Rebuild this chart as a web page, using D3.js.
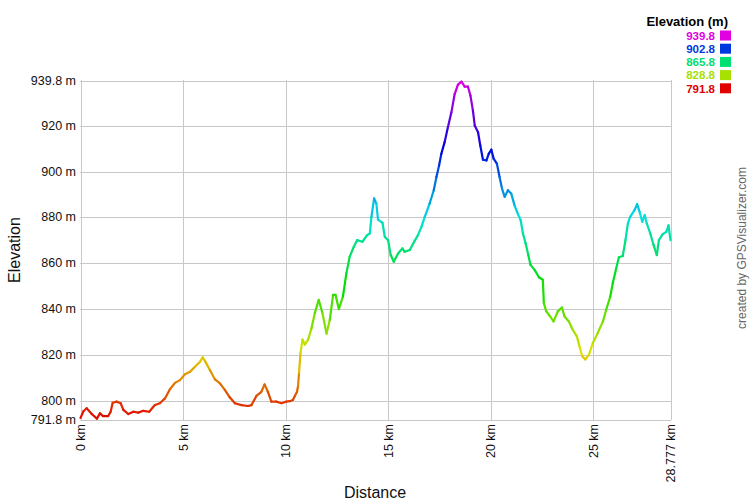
<!DOCTYPE html>
<html><head><meta charset="utf-8">
<script src="https://cdn.jsdelivr.net/npm/d3@7"></script>
<style>body{margin:0;background:#fff;}svg{display:block;font-family:"Liberation Sans",Arial,sans-serif;}</style>
</head><body>
<script>
const distanceKm = [0,0.15,0.3,0.55,0.8,0.95,1.1,1.35,1.47,1.57,1.76,1.96,2.09,2.33,2.58,2.82,3.06,3.35,3.63,3.87,4.12,4.36,4.61,4.85,5.1,5.34,5.58,5.83,5.96,6.07,6.31,6.56,6.8,7.04,7.28,7.53,7.85,8.17,8.34,8.58,8.82,8.98,9.14,9.31,9.55,9.8,10.04,10.21,10.36,10.45,10.56,10.61,10.66,10.73,10.83,10.94,11.1,11.27,11.43,11.62,11.8,12.0,12.16,12.32,12.44,12.6,12.8,12.97,13.13,13.33,13.49,13.75,13.98,14.11,14.19,14.32,14.43,14.51,14.73,14.84,15.0,15.13,15.28,15.49,15.7,15.81,16.06,16.3,16.46,16.63,16.79,17.03,17.23,17.36,17.49,17.6,17.76,17.92,18.09,18.25,18.41,18.58,18.74,18.9,19.02,19.14,19.23,19.39,19.5,19.63,19.8,19.91,20.04,20.15,20.31,20.44,20.56,20.69,20.85,21.01,21.17,21.34,21.47,21.58,21.71,21.84,21.95,22.15,22.36,22.55,22.6,22.72,22.88,23.07,23.28,23.48,23.61,23.82,24.01,24.21,24.34,24.47,24.62,24.8,24.99,25.23,25.48,25.64,25.84,25.96,26.13,26.26,26.45,26.58,26.7,26.81,27.02,27.15,27.27,27.4,27.52,27.62,27.79,27.95,28.11,28.21,28.4,28.57,28.68,28.777];
const elevationM = [792.5,795.5,796.7,794.2,792.2,794.5,793.3,793.3,795.2,799.1,799.6,798.9,796,794.2,795.2,794.8,795.6,795.2,798.1,798.9,801,805,807.8,809,811.6,812.6,814.8,817,818.9,817.4,813.4,809.3,807.6,804.7,801.5,798.9,798.1,797.7,798.1,802.1,803.9,807.1,803.9,799.6,799.6,798.9,799.6,799.8,800.3,802,803.9,806.3,812.2,820.9,826.7,824.5,826.7,831.7,838.3,844,838.3,829.3,835.3,846.2,846.2,840,845.5,855.7,862.9,867.2,870.1,869.4,872.3,873,880.3,888.3,886.1,879.1,877.7,871.6,870.1,863.6,860.7,864.3,866.5,865,865.8,869.8,872.3,875.9,880.3,886.1,891.9,897.7,902.7,907.8,912.9,919.4,925.9,933.9,938,939.3,937.1,937.1,933.2,926.7,920.1,917.2,911.4,905.2,904.9,907.8,909.6,905.7,903.5,897.7,892.6,889,891.9,890.4,885.3,881.4,878.8,873,868.7,863.6,859.3,857.1,853.9,852.8,842.6,839,837.1,834.6,839,840.7,836.8,834.6,831,828.1,823.7,819.4,818,820.1,825.2,829.6,834.6,839.7,845.5,851.3,857.8,862.6,863.2,870.1,877.4,880.3,883.2,885.8,882.4,878.1,881,877.4,873,868,863.6,870.1,872.7,873.7,876.6,870.1];
const yTickValues = [791.8,800,820,840,860,880,900,920,939.8];
const yTickLabels = ["791.8 m","800 m","820 m","840 m","860 m","880 m","900 m","920 m","939.8 m"];
const xTickValues = [0,5,10,15,20,25,28.777];
const xTickLabels = ["0 km","5 km","10 km","15 km","20 km","25 km","28.777 km"];
const legendValues = [939.8,902.8,865.8,828.8,791.8];
const legendLabels = ["939.8","902.8","865.8","828.8","791.8"];

const W=750,H=500;
const svg=d3.select("body").append("svg").attr("width",W).attr("height",H);
const x=d3.scaleLinear().domain([0,28.777]).range([80.5,670.5]);
const y=d3.scaleLinear().domain([791.8,939.8]).range([419.5,80.5]);
const color=e=>d3.hsl(300*(e-791.8)/148,1,0.44).formatHex();

// gridlines
svg.append("g").selectAll("line").data(yTickValues).join("line")
  .attr("x1",80).attr("x2",671).attr("y1",d=>Math.round(y(d))+0.5).attr("y2",d=>Math.round(y(d))+0.5)
  .attr("stroke","#c8c8c8").attr("stroke-width",1);
svg.append("g").selectAll("line").data(xTickValues).join("line")
  .attr("y1",80).attr("y2",420).attr("x1",d=>Math.round(x(d))+0.5).attr("x2",d=>Math.round(x(d))+0.5)
  .attr("stroke","#c8c8c8").attr("stroke-width",1);

// y labels
svg.append("g").selectAll("text").data(yTickValues).join("text")
  .attr("x",76).attr("y",d=>y(d)+4).attr("text-anchor","end").attr("font-size",12.5).attr("fill","#111")
  .text((d,i)=>yTickLabels[i]);
// x labels
svg.append("g").selectAll("text").data(xTickValues).join("text")
  .attr("transform",d=>`translate(${x(d)+4.5},424) rotate(-90)`).attr("text-anchor","end")
  .attr("font-size",12.5).attr("fill","#111").text((d,i)=>xTickLabels[i]);

svg.append("text").attr("transform","translate(20,250) rotate(-90)").attr("text-anchor","middle")
  .attr("font-size",16).attr("fill","#111").text("Elevation");
svg.append("text").attr("x",375).attr("y",498).attr("text-anchor","middle")
  .attr("font-size",16).attr("fill","#111").text("Distance");
svg.append("text").attr("transform","translate(746,248) rotate(-90)").attr("text-anchor","middle")
  .attr("font-size",12).attr("fill","#666").text("created by GPSVisualizer.com");

// profile segments
const pts=distanceKm.map((d,i)=>[d,elevationM[i]]);
const segs=d3.pairs(pts);
svg.append("g").selectAll("line").data(segs).join("line")
  .attr("x1",d=>x(d[0][0])).attr("y1",d=>y(d[0][1]))
  .attr("x2",d=>x(d[1][0])).attr("y2",d=>y(d[1][1]))
  .attr("stroke",d=>color((d[0][1]+d[1][1])/2)).attr("stroke-width",2.2).attr("stroke-linecap","round");

// legend
svg.append("text").attr("x",728).attr("y",26).attr("text-anchor","end").attr("font-size",13)
  .attr("font-weight","bold").attr("fill","#000").text("Elevation (m)");
const lg=svg.append("g").selectAll("g").data(legendValues).join("g")
  .attr("transform",(d,i)=>`translate(0,${30+i*13.2})`);
lg.append("rect").attr("x",720).attr("y",0.5).attr("width",11).attr("height",10).attr("fill",d=>color(d));
lg.append("text").attr("x",715).attr("y",9.8).attr("text-anchor","end").attr("font-size",11.5)
  .attr("font-weight","bold").attr("fill",d=>color(d)).text((d,i)=>legendLabels[i]);
</script>
</body></html>
